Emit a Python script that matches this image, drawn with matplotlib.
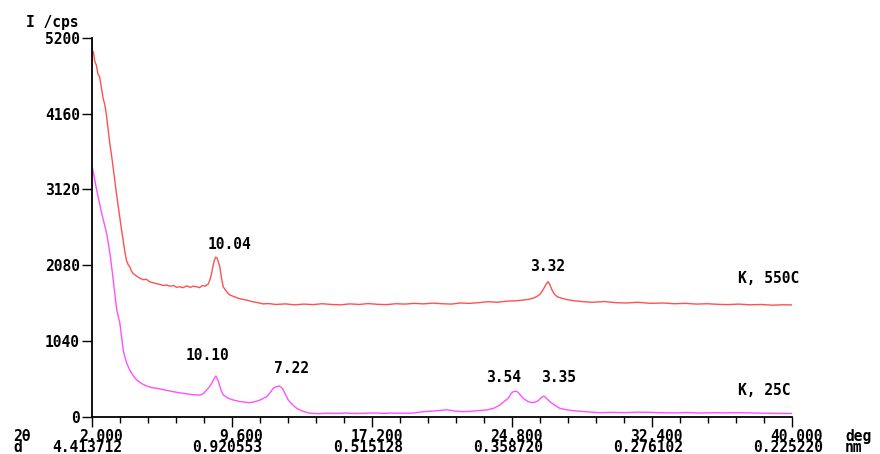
import matplotlib
matplotlib.use("Agg")
import matplotlib.pyplot as plt
from matplotlib.ticker import FixedLocator
from matplotlib.transforms import ScaledTranslation, blended_transform_factory

# K, 550C pattern (2theta in deg, intensity in cps)
red_2theta = [
    2.00, 2.04, 2.09, 2.16, 2.25, 2.34, 2.43, 2.52, 2.62, 2.71, 2.80, 2.89,
    2.98, 3.07, 3.16, 3.25, 3.34, 3.43, 3.52, 3.61, 3.70, 3.79, 3.88, 3.97,
    4.06, 4.15, 4.24, 4.40, 4.61, 4.80, 4.97, 5.15, 5.33, 5.50, 5.70, 5.90,
    6.06, 6.25, 6.45, 6.60, 6.78, 6.95, 7.15, 7.35, 7.50, 7.68, 7.85, 8.00,
    8.15, 8.23, 8.32, 8.41, 8.50, 8.59, 8.66, 8.73, 8.80, 8.88, 8.95, 9.04,
    9.13, 9.30, 9.49, 9.70, 9.95, 10.20, 10.40, 10.70, 11.00, 11.30, 11.60,
    12.00, 12.50, 13.00, 13.50, 14.00, 14.50, 15.00, 15.50, 16.00, 16.50,
    17.00, 17.50, 18.00, 18.50, 19.00, 19.50, 20.00, 20.50, 21.00, 21.50,
    22.00, 22.50, 23.00, 23.50, 24.00, 24.50, 25.00, 25.40, 25.70, 25.94,
    26.15, 26.32, 26.50, 26.65, 26.76, 26.85, 26.97, 27.10, 27.25, 27.50,
    27.80, 28.20, 28.66, 29.20, 29.80, 30.40, 31.00, 31.60, 32.30, 33.00,
    33.60, 34.20, 34.80, 35.40, 35.93, 36.50, 37.10, 37.70, 38.30, 38.90,
    39.50, 40.00,
]
red_cps = [
    5200, 4990, 5010, 4880, 4825, 4700, 4665, 4520, 4370, 4280, 4140, 3950,
    3750, 3600, 3430, 3250, 3065, 2900, 2745, 2580, 2425, 2280, 2150, 2090,
    2060, 2000, 1965, 1935, 1900, 1880, 1885, 1850, 1838, 1825, 1815, 1800,
    1807, 1790, 1800, 1775, 1784, 1770, 1795, 1775, 1790, 1784, 1770, 1800,
    1790, 1807, 1820, 1876, 1960, 2080, 2150, 2190, 2175, 2110, 2058, 1900,
    1784, 1720, 1670, 1650, 1625, 1610, 1600, 1580, 1565, 1548, 1552,
    1540, 1548, 1535, 1545, 1538, 1550, 1540, 1535, 1548, 1540,
    1552, 1542, 1538, 1550, 1545, 1555, 1548, 1558, 1550, 1545,
    1560, 1555, 1565, 1578, 1570, 1585, 1590, 1600, 1610, 1626,
    1650, 1680, 1750, 1820, 1852, 1810, 1738, 1680, 1646, 1625,
    1605, 1590, 1578, 1570, 1580, 1565, 1560, 1570, 1556, 1560,
    1550, 1555, 1545, 1550, 1542, 1538, 1545, 1535, 1540, 1530,
    1536, 1533,
]

# K, 25C pattern
mag_2theta = [
    2.00, 2.06, 2.13, 2.20, 2.27, 2.36, 2.45, 2.54, 2.63, 2.72, 2.81, 2.90,
    2.99, 3.08, 3.17, 3.26, 3.36, 3.45, 3.53, 3.62, 3.71, 3.80, 3.90, 4.03,
    4.17, 4.30, 4.44, 4.70, 4.98, 5.25, 5.52, 5.80, 6.10, 6.43, 6.70, 7.00,
    7.33, 7.60, 7.88, 8.05, 8.24, 8.38, 8.51, 8.63, 8.74, 8.85, 8.96, 9.05,
    9.14, 9.40, 9.68, 10.00, 10.30, 10.58, 10.85, 11.13, 11.30, 11.49, 11.68,
    11.85, 12.00, 12.17, 12.28, 12.39, 12.52, 12.66, 12.90, 13.12, 13.45,
    13.84, 14.30, 14.80, 15.30, 15.80, 16.30, 16.80, 17.30, 17.80, 18.30,
    18.80, 19.44, 19.98, 20.40, 20.80, 21.25, 21.70, 22.15, 22.60, 23.00,
    23.42, 23.80, 24.14, 24.40, 24.59, 24.75, 24.86, 25.00, 25.13, 25.27,
    25.41, 25.65, 25.86, 26.05, 26.22, 26.40, 26.53, 26.68, 26.85, 27.10,
    27.39, 27.75, 28.12, 28.80, 29.56, 30.20, 30.90, 31.60, 32.27, 32.90,
    33.60, 34.30, 34.98, 35.70, 36.40, 37.00, 37.70, 38.40, 39.20, 40.00,
]
mag_cps = [
    3453, 3390, 3300, 3200, 3111, 3000, 2900, 2791, 2700, 2610, 2516, 2380,
    2242, 2060, 1876, 1670, 1464, 1370, 1281, 1100, 915, 820, 733, 660,
    595, 545, 504, 455, 421, 400, 390, 375, 360, 343, 330, 320,
    307, 300, 297, 315, 366, 410, 458, 520, 558, 500, 412, 340,
    298, 255, 229, 210, 200, 192, 205, 229, 250, 274, 330,
    390, 410, 421, 405, 366, 300, 229, 160, 115, 75,
    47, 42, 48, 45, 50, 44, 47, 52, 46, 50,
    48, 50, 69, 75, 85, 95, 78, 69, 75, 85,
    92, 115, 160, 215, 252, 320, 343, 350, 335, 290,
    252, 210, 192, 200, 220, 265, 284, 250, 206, 160,
    115, 95, 82, 68, 55, 60, 55, 62, 60, 55,
    52, 58, 50, 55, 52, 56, 52, 48, 45, 44,
]

major_2theta = [2.0, 9.6, 17.2, 24.8, 32.4, 40.0]
two_theta_labels = ["2.000", "9.600", "17.200", "24.800", "32.400", "40.000"]
d_labels = ["4.413712", "0.920553", "0.515128", "0.358720", "0.276102", "0.225220"]
y_ticks = [0, 1040, 2080, 3120, 4160, 5200]

# peak labels: (text, 2theta, cps, alignment)
peaks = [
    ("10.04", 9.50, 2356, "center"),
    ("3.32", 26.72, 2054, "center"),
    ("K, 550C", 37.05, 1903, "left"),
    ("10.10", 8.28, 833, "center"),
    ("7.22", 12.84, 668, "center"),
    ("3.54", 24.33, 531, "center"),
    ("3.35", 27.34, 531, "center"),
    ("K, 25C", 37.05, 366, "left"),
]

FS = 10.5
LS = 0.66
FONT = dict(family="DejaVu Sans Mono", weight="bold", size=FS)
W, H = 880, 454


def px(x, y):
    return x / W, 1 - y / H


fig = plt.figure(figsize=(8.8, 4.54), dpi=100)
ax = fig.add_axes([91.7 / W, 37.3 / H, 700.6 / W, 379.0 / H])

ax.plot(red_2theta, red_cps, color="#ff5050", lw=1.0)
ax.plot(mag_2theta, mag_cps, color="#ff50ff", lw=1.0)

ax.set_xlim(2, 40)
ax.set_ylim(0, 5200)
for side in ("top", "right"):
    ax.spines[side].set_visible(False)
for side in ("left", "bottom"):
    ax.spines[side].set_linewidth(1.3)
    ax.spines[side].set_color("black")

ax.set_yticks(y_ticks)
ax.set_yticklabels([str(v) for v in y_ticks], fontdict=FONT)
ax.tick_params(axis="y", direction="out", length=7, width=1, pad=1.5)

minor_pos = [2.0 + 1.52 * i for i in range(26)]
ax.xaxis.set_major_locator(FixedLocator(major_2theta))
ax.xaxis.set_minor_locator(FixedLocator(minor_pos))
ax.tick_params(axis="x", which="major", direction="out", length=7, width=1)
ax.tick_params(axis="x", which="minor", direction="out", length=4, width=1)
ax.set_xticklabels([])

# two-row x labels, right edge 3.5 characters past the tick (decimal point on tick)
cw_pt = 0.602 * FS
shift = ScaledTranslation(3.5 * cw_pt / 72, 0, fig.dpi_scale_trans)
trans = blended_transform_factory(ax.transData, fig.transFigure) + shift
for xv, t1, t2 in zip(major_2theta, two_theta_labels, d_labels):
    ax.text(xv, px(0, 429)[1], t1 + "\n" + t2, transform=trans, ha="right",
            va="top", multialignment="right", linespacing=LS,
            clip_on=False, **FONT)

fig.text(*px(13, 429), "2θ\nd", ha="left", va="top", multialignment="left",
         linespacing=LS, **FONT)
fig.text(*px(845, 429), "deg\nnm", ha="left", va="top", multialignment="left",
         linespacing=LS, **FONT)
fig.text(*px(78, 15), "I /cps", ha="right", va="top", **FONT)

for txt, xv, yv, ha in peaks:
    ax.text(xv, yv, txt, ha=ha, va="center", clip_on=False, **FONT)

fig.savefig("out.png", dpi=100)
